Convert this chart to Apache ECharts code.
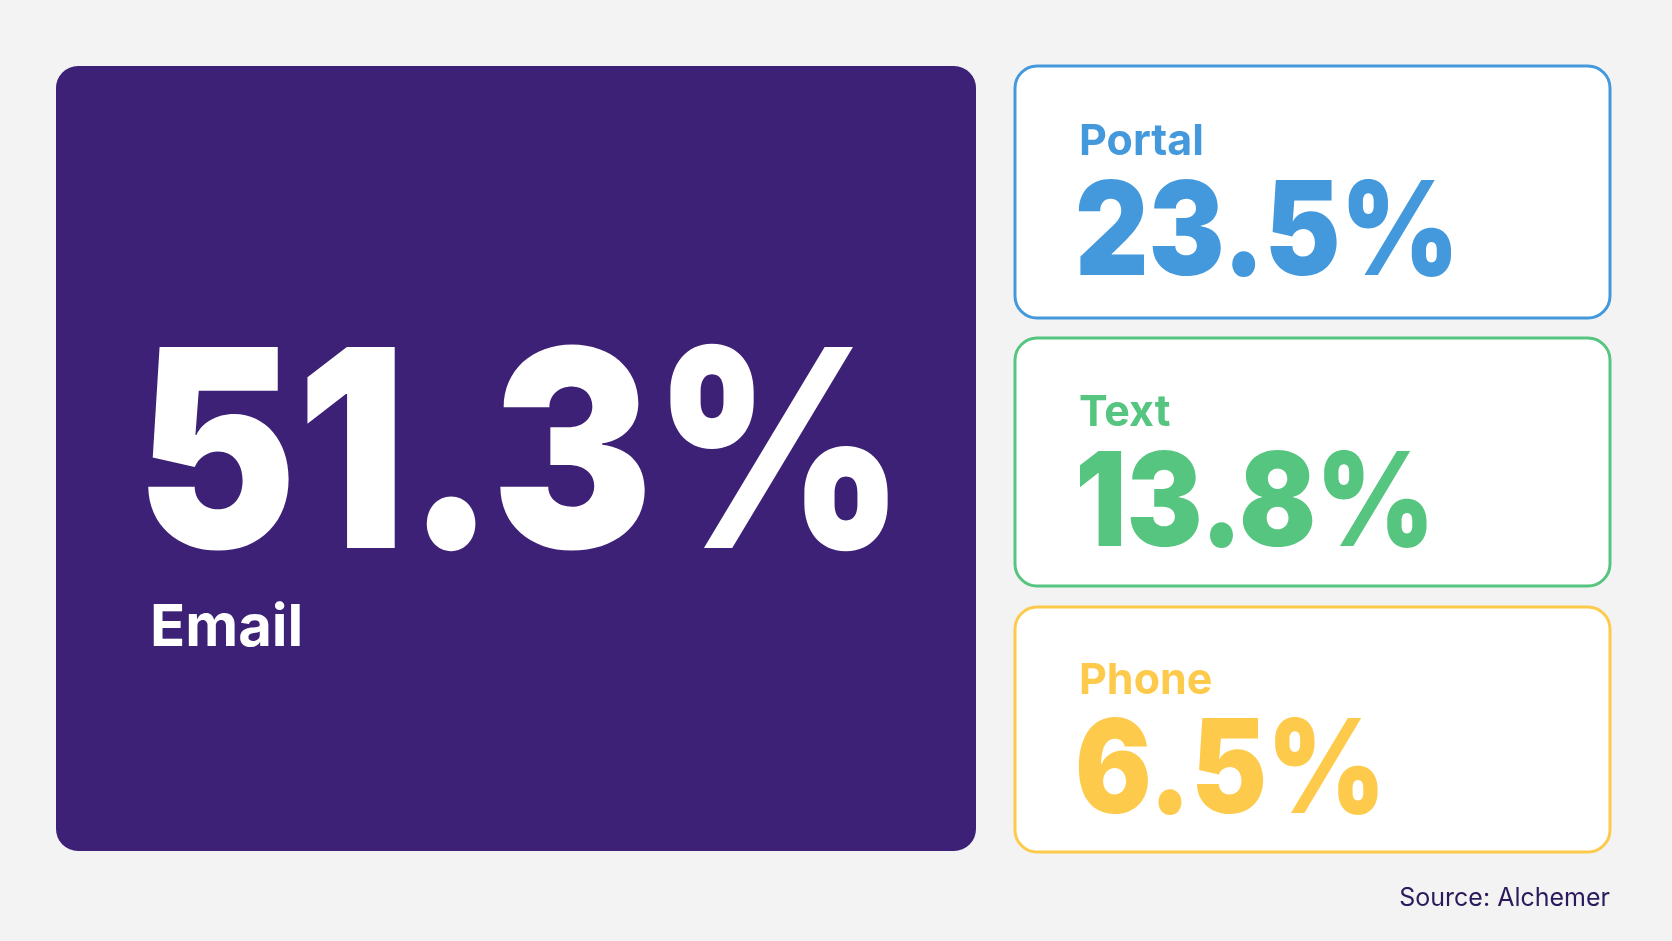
<!DOCTYPE html>
<html>
<head>
<meta charset="utf-8">
<script src="https://cdn.jsdelivr.net/npm/echarts@6/dist/echarts.min.js"></script>
<style>
  html, body { margin: 0; padding: 0; background: #f3f3f3; }
  #main { width: 1672px; height: 941px; }
</style>
</head>
<body>
<div id="main"></div>
<script>
// data
var channels = ['Email', 'Portal', 'Text', 'Phone'];
var shares = [51.3, 23.5, 13.8, 6.5];
var source = 'Source: Alchemer';

// colours per channel
var colors = ['#3d2176', '#4399dc', '#55c57f', '#fdca4b'];

var myChart = echarts.init(document.getElementById('main'));
var FONT = 'Inter, Lato, "Noto Sans", sans-serif';
var SQUEEZE = 0.875;   // narrow the figures a little

function pct(v) { return v.toFixed(1) + '%'; }

// baseline -> middle of em box (zrender places text by its middle)
function mid(baseline, size) { return baseline - size * 0.33; }

var graphic = [];

// big card: first channel
graphic.push({
    type: 'rect',
    shape: { x: 56, y: 66, width: 920, height: 785, r: 22 },
    style: { fill: colors[0] }
});
graphic.push({
    type: 'text',
    x: 136, y: mid(556, 276),
    scaleX: SQUEEZE,
    style: {
        text: pct(shares[0]), fill: '#fff', font: '900 276px ' + FONT,
        align: 'left', verticalAlign: 'middle'
    }
});
graphic.push({
    type: 'text',
    x: 150, y: mid(648, 58),
    style: {
        text: channels[0], fill: '#fff', font: '700 58px ' + FONT,
        align: 'left', verticalAlign: 'middle'
    }
});

// small cards
var cardY = [66, 338, 607];
var cardH = [252, 248, 245];
var labelBase = [156, 427, 695];
var valueBase = [279, 550, 817];
for (var i = 1; i < channels.length; i++) {
    graphic.push({
        type: 'rect',
        shape: { x: 1015, y: cardY[i - 1], width: 595, height: cardH[i - 1], r: 22 },
        style: { fill: '#fff', stroke: colors[i], lineWidth: 3 }
    });
    graphic.push({
        type: 'text',
        x: 1079, y: mid(labelBase[i - 1], 43),
        style: {
            text: channels[i], fill: colors[i], font: '700 43px ' + FONT,
            align: 'left', verticalAlign: 'middle'
        }
    });
    graphic.push({
        type: 'text',
        x: 1075, y: mid(valueBase[i - 1], 130),
        scaleX: SQUEEZE,
        style: {
            text: pct(shares[i]), fill: colors[i], font: '900 130px ' + FONT,
            align: 'left', verticalAlign: 'middle'
        }
    });
}

graphic.push({
    type: 'text',
    x: 1610, y: mid(907, 25),
    style: {
        text: source, fill: '#2b1b5c', font: '400 25px ' + FONT,
        align: 'right', verticalAlign: 'middle'
    }
});

var option = {
    backgroundColor: '#f3f3f3',
    animation: false,
    graphic: graphic
};

myChart.setOption(option);
</script>
</body>
</html>
